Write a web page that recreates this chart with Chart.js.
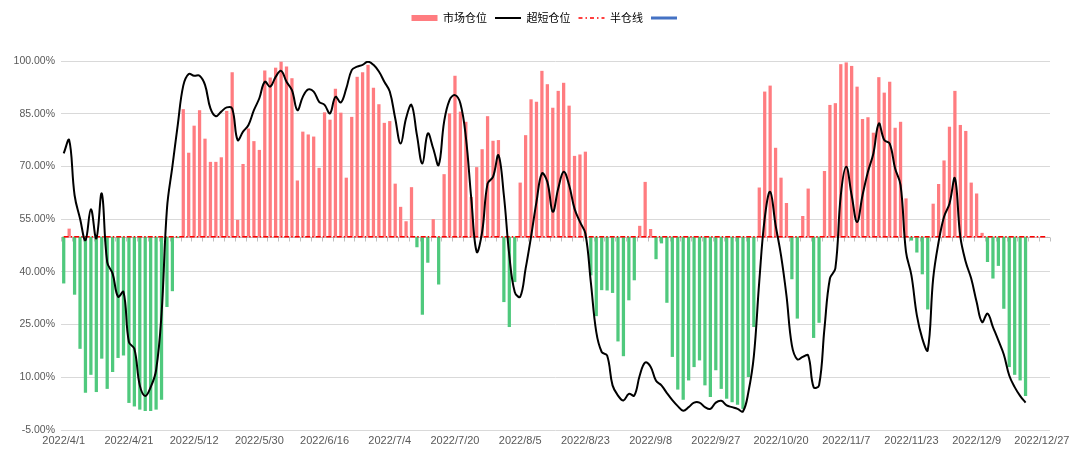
<!DOCTYPE html>
<html>
<head>
<meta charset="utf-8">
<script src="https://cdn.jsdelivr.net/npm/chart.js@4.4.0/dist/chart.umd.min.js"></script>
<style>
  html, body { margin: 0; padding: 0; background: #fff; }
  #wrap { width: 1080px; height: 468px; }
</style>
</head>
<body>
<div id="wrap"><canvas id="chart"></canvas></div>
<script>
// tick labels shown every 12 trading days
var TICK_LABELS = ['2022/4/1', '2022/4/21', '2022/5/12', '2022/5/30', '2022/6/16', '2022/7/4',
  '2022/7/20', '2022/8/5', '2022/8/23', '2022/9/8', '2022/9/27', '2022/10/20', '2022/11/7',
  '2022/11/23', '2022/12/9', '2022/12/27'];
var TICK_EVERY = 12;
var CATEGORY_COUNT = 182;

// 市场仓位 (bars, measured from the 50% line)
var marketPos = [
  36.7, 52.3, 33.5, 18.1, 5.6, 10.7, 5.8, 15.3, 6.7, 11.5,
  15.5, 16.2, 2.7, 1.7, 0.8, 0.4, 0.4, 0.8, 3.6, 30.0,
  34.5, 49.6, 86.3, 73.9, 81.6, 86.0, 77.9, 71.3, 71.3, 72.6,
  85.8, 96.8, 54.8, 70.7, 80.8, 77.2, 74.7, 97.3, 95.3, 98.1,
  99.8, 98.4, 95.1, 66.0, 79.9, 79.1, 78.5, 69.6, 85.4, 83.3,
  92.1, 85.3, 66.8, 84.1, 95.5, 96.8, 98.9, 92.4, 87.7, 82.4,
  82.9, 65.1, 58.5, 54.4, 64.1, 47.0, 27.8, 42.6, 55.0, 36.4,
  67.8, 85.1, 95.8, 85.6, 82.7, 61.3, 69.8, 74.9, 84.3, 77.3,
  77.5, 31.4, 24.3, 37.1, 65.4, 78.9, 89.1, 88.4, 97.2, 93.4,
  86.7, 91.5, 93.8, 87.3, 73.0, 73.4, 74.2, 39.0, 27.4, 34.8,
  34.7, 34.0, 20.2, 16.0, 31.9, 37.6, 53.1, 65.6, 52.2, 43.6,
  48.1, 31.2, 15.8, 6.5, 3.6, 9.1, 12.9, 14.8, 7.7, 4.4,
  12.0, 6.7, 3.9, 2.9, 2.2, 1.0, 10.1, 24.3, 64.0, 91.3,
  93.0, 75.3, 66.8, 59.6, 37.9, 26.7, 55.9, 63.7, 21.2, 25.5,
  68.7, 87.5, 88.0, 99.1, 99.6, 98.6, 92.7, 83.5, 84.0, 79.6,
  95.4, 91.0, 94.1, 81.0, 82.7, 60.9, 48.9, 45.5, 39.3, 29.3,
  59.4, 65.0, 71.7, 81.3, 91.5, 81.8, 80.1, 65.4, 62.3, 51.1,
  42.8, 38.1, 41.7, 29.5, 12.9, 10.7, 9.1, 4.7
];

// 超短仓位 (smoothed black line)
var shortPos = [
  73.7, 77.5, 61.8, 55.2, 49.0, 57.8, 49.5, 62.3, 42.8, 39.5,
  32.9, 34.3, 20.0, 18.1, 7.7, 4.7, 7.2, 12.0, 28.0, 58.0,
  70.0, 82.0, 93.0, 96.3, 95.8, 95.8, 93.2, 86.5, 84.3, 85.6,
  86.8, 86.5, 77.5, 79.9, 81.8, 86.0, 89.4, 94.1, 92.7, 95.5,
  97.2, 94.1, 91.7, 86.0, 89.8, 91.9, 91.3, 88.4, 87.5, 85.1,
  89.8, 88.2, 92.2, 97.4, 98.4, 98.9, 99.8, 98.9, 97.0, 94.1,
  91.3, 83.7, 76.5, 83.7, 87.5, 78.9, 70.8, 79.4, 75.1, 70.4,
  82.7, 88.9, 90.3, 87.9, 78.4, 60.9, 45.7, 51.4, 65.1, 67.0,
  73.2, 61.8, 44.7, 34.3, 32.9, 40.9, 50.0, 59.9, 68.0, 65.6,
  57.1, 63.7, 68.5, 64.7, 58.0, 54.2, 50.9, 37.1, 22.9, 17.2,
  16.2, 7.7, 4.8, 3.4, 5.3, 4.8, 10.5, 14.2, 13.0, 9.0,
  7.7, 5.5, 3.5, 1.8, 0.5, 1.5, 2.8, 2.8, 1.5, 1.0,
  2.8, 3.3, 2.0, 1.5, 1.0, 0.3, 5.8, 16.0, 37.3, 55.2,
  62.8, 53.3, 44.7, 33.3, 19.1, 15.1, 15.8, 16.2, 7.2, 7.7,
  24.0, 38.1, 41.0, 61.8, 69.9, 61.8, 54.2, 61.8, 68.5, 73.7,
  82.2, 77.5, 76.5, 69.4, 64.7, 45.7, 39.0, 27.6, 21.0, 17.7,
  38.1, 48.5, 55.7, 59.4, 66.6, 50.0, 42.8, 38.1, 31.4, 25.7,
  28.1, 24.3, 20.5, 16.5, 10.5, 7.2, 4.7, 2.8
];

var HALF_LINE = 50;

var COLORS = {
  up: '#ff7c80',
  down: '#4fc97d',
  line: '#000000',
  half: '#ff0000',
  blue: '#4472c4',
  grid: '#d9d9d9',
  text: '#595959',
};

var labels = [];
for (var i = 0; i < CATEGORY_COUNT; i++) {
  labels.push(i % TICK_EVERY === 0 ? TICK_LABELS[i / TICK_EVERY] : '');
}
var halfLineData = labels.map(function () { return HALF_LINE; });

/**
 * Push the plot area down below the legend, and nudge the legend row right
 * so it sits where the original has it.
 */
var legendSpacer = {
  id: 'legendSpacer',
  beforeInit: function (chart) {
    var origFit = chart.legend.fit;
    chart.legend.fit = function () {
      origFit.bind(chart.legend)();
      this.height += 27.5;
    };
  },
  afterLayout: function (chart) {
    chart.legend.left += 44;
  },
};

/**
 * Category axis crosses at 50%: small tick marks every 2 categories.
 */
var midAxis = {
  id: 'midAxis',
  beforeDatasetsDraw: function (chart) {
    var xs = chart.scales.x;
    var ys = chart.scales.y;
    var ctx = chart.ctx;
    var half = (xs.getPixelForValue(1) - xs.getPixelForValue(0)) / 2;
    var y0 = Math.round(ys.getPixelForValue(HALF_LINE)) + 0.5;
    ctx.save();
    ctx.strokeStyle = '#bfbfbf';
    ctx.lineWidth = 1;
    ctx.beginPath();
    ctx.moveTo(chart.chartArea.left, y0);
    ctx.lineTo(chart.chartArea.right, y0);
    for (var k = 0; k <= CATEGORY_COUNT; k += 2) {
      var px = Math.round(xs.getPixelForValue(k) - half) + 0.5;
      ctx.moveTo(px, y0);
      ctx.lineTo(px, y0 + 4);
    }
    ctx.stroke();
    ctx.restore();
  },
};

new Chart(document.getElementById('chart'), {
  type: 'bar',
  data: {
    labels: labels,
    datasets: [
      {
        type: 'bar',
        label: '市场仓位',
        data: marketPos,
        base: HALF_LINE,
        backgroundColor: function (c) {
          var v = c.raw;
          return v >= HALF_LINE ? COLORS.up : COLORS.down;
        },
        borderWidth: 0,
        barPercentage: 0.6,
        categoryPercentage: 1.0,
        order: 3,
        legendStyle: 'rect',
        legendColor: COLORS.up,
        legendLineWidth: 0,
      },
      {
        type: 'line',
        label: '超短仓位',
        data: shortPos,
        borderColor: COLORS.line,
        borderWidth: 2,
        pointRadius: 0,
        tension: 0.4,
        fill: false,
        order: 1,
        legendStyle: 'line',
        legendColor: COLORS.line,
        legendLineWidth: 2,
      },
      {
        type: 'line',
        label: '半仓线',
        data: halfLineData,
        borderColor: COLORS.half,
        borderWidth: 1.5,
        borderDash: [5, 2, 1.5, 2],
        pointRadius: 0,
        fill: false,
        order: 2,
        legendStyle: 'line',
        legendColor: COLORS.half,
        legendLineWidth: 1.5,
        legendDash: [4, 3, 1.5, 3],
      },
      {
        type: 'line',
        label: '',
        data: [],
        borderColor: COLORS.blue,
        borderWidth: 3,
        pointRadius: 0,
        order: 4,
        legendStyle: 'line',
        legendColor: COLORS.blue,
        legendLineWidth: 3,
      },
    ],
  },
  options: {
    responsive: true,
    maintainAspectRatio: false,
    animation: false,
    layout: { padding: { top: 4.5, right: 30, bottom: 0, left: 0 } },
    plugins: {
      tooltip: { enabled: false },
      legend: {
        position: 'top',
        labels: {
          usePointStyle: true,
          pointStyleWidth: 26,
          boxHeight: 6,
          padding: 8,
          color: '#666666',
          font: { family: '"Noto Sans CJK SC", sans-serif', size: 11 },
          generateLabels: function (chart) {
            return chart.data.datasets.map(function (ds, i) {
              return {
                text: ds.label,
                datasetIndex: i,
                fillStyle: ds.legendColor,
                strokeStyle: ds.legendColor,
                lineWidth: ds.legendLineWidth,
                lineDash: ds.legendDash || [],
                pointStyle: ds.legendStyle,
                hidden: false,
              };
            });
          },
        },
      },
    },
    scales: {
      x: {
        offset: true,
        grid: { display: false, drawTicks: false },
        border: { display: false },
        ticks: {
          autoSkip: false,
          maxRotation: 0,
          minRotation: 0,
          padding: 4,
          color: COLORS.text,
          font: { family: '"Liberation Sans", Arial, sans-serif', size: 11 },
        },
        afterFit: function (scale) { scale.height = 38; },
      },
      y: {
        min: -5,
        max: 100,
        grid: { color: COLORS.grid, drawTicks: false },
        border: { display: false },
        ticks: {
          stepSize: 15,
          padding: 6,
          color: COLORS.text,
          font: { family: '"Liberation Sans", Arial, sans-serif', size: 10.5 },
          callback: function (value) {
            return value.toFixed(2) + '%';
          },
        },
        afterFit: function (scale) { scale.width = 61; },
      },
    },
  },
  plugins: [legendSpacer, midAxis],
});
</script>
</body>
</html>
